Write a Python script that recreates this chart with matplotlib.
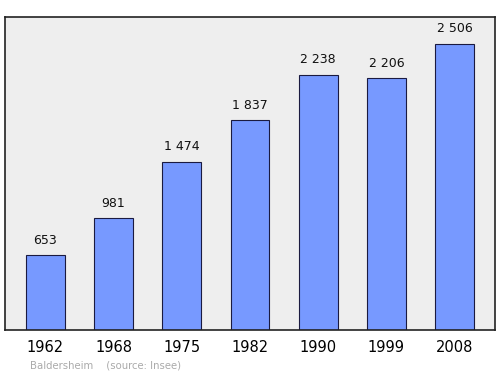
import matplotlib.pyplot as plt

years = ["1962", "1968", "1975", "1982", "1990", "1999", "2008"]
population = [653, 981, 1474, 1837, 2238, 2206, 2506]
value_labels = ["653", "981", "1 474", "1 837", "2 238", "2 206", "2 506"]

fig = plt.figure(figsize=(5, 3.74), dpi=100)
ax = fig.add_axes([0.01, 0.1176, 0.98, 0.837])
ax.set_facecolor("#eeeeee")

x = range(len(years))
ax.bar(x, population, width=0.57, color="#7799ff", edgecolor="#1a1a40", linewidth=0.8)

for i, (v, lab) in enumerate(zip(population, value_labels)):
    ax.text(i, v + 75, lab, ha="center", va="bottom", fontsize=9, color="#111111")

ax.set_xlim(-0.593, 6.593)
ax.set_ylim(0, 2743)
ax.set_yticks([])
ax.set_xticks(list(x))
ax.set_xticklabels(years, fontsize=10.5)
ax.tick_params(axis="x", length=0, pad=7)
for s in ax.spines.values():
    s.set_linewidth(1.2)
    s.set_color("#222222")

fig.text(0.06, 0.01, "Baldersheim    (source: Insee)", fontsize=7.3, color="#aaaaaa", va="bottom")

fig.savefig("out.png", dpi=100)
